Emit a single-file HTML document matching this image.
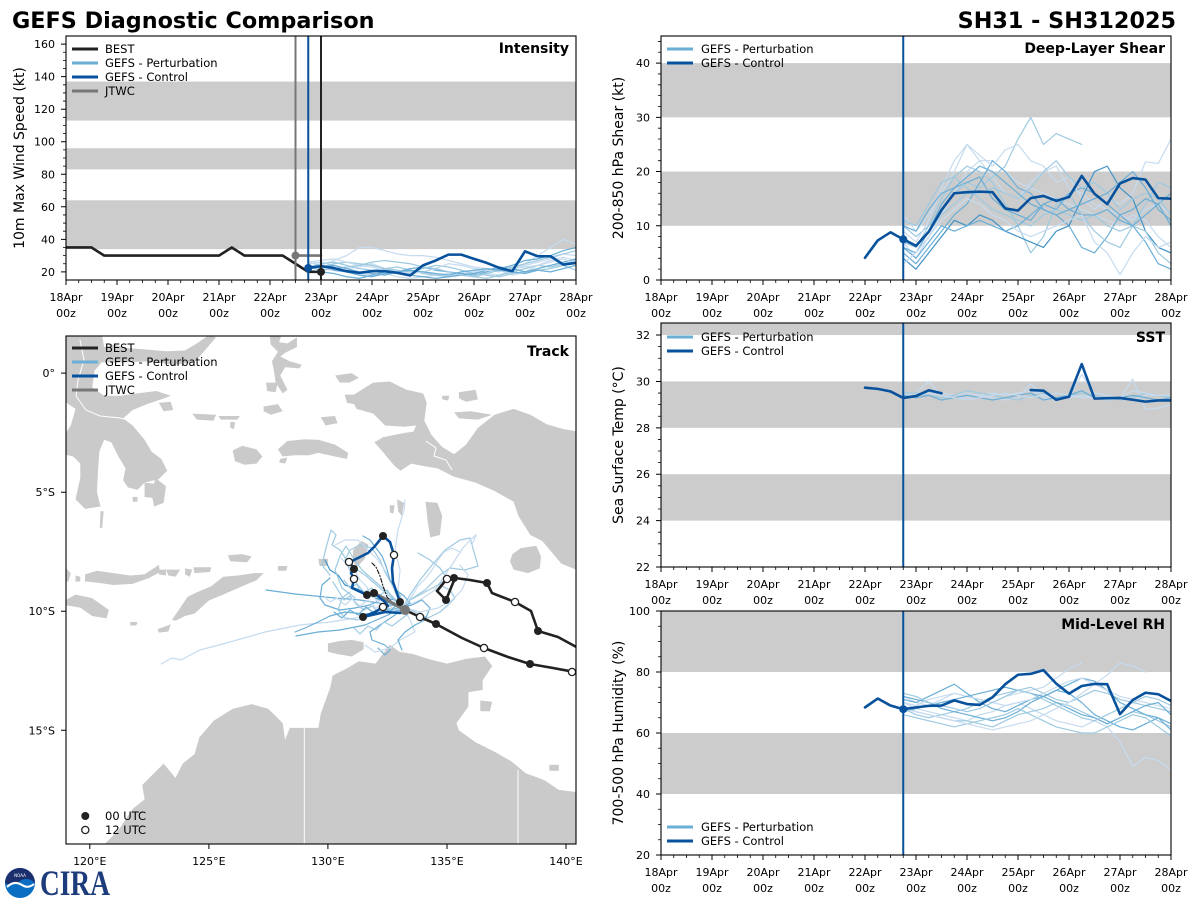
<!DOCTYPE html>
<html><head><meta charset="utf-8"><style>
html,body{margin:0;padding:0;background:#fff}
svg{display:block}
text{font-family:"DejaVu Sans","Liberation Sans",sans-serif;fill:#000}
.tk{font-size:11px}
.xl{font-size:11px;text-anchor:middle}
.yl{font-size:11px;text-anchor:end}
.lg{font-size:11.5px}
.ttl{font-size:14px;font-weight:bold;text-anchor:end}
.al{font-size:14px;text-anchor:middle}
polyline{fill:none;vector-effect:non-scaling-stroke;stroke-linejoin:round;stroke-linecap:round}
.pa{stroke:#c6dbef;stroke-width:1.2}
.pb{stroke:#9ecae1;stroke-width:1.2}
.pc{stroke:#6baed6;stroke-width:1.2}
.pd{stroke:#4292c6;stroke-width:1.2}
.ctl{stroke:#08519c;stroke-width:2.6}
.bst{stroke:#222;stroke-width:2.6}
.band{fill:#cccccc}
.land{fill:#cacaca}
.tr{fill:none;stroke-linejoin:round;stroke-linecap:round}
</style></head><body>
<svg width="1200" height="900" viewBox="0 0 1200 900" xmlns="http://www.w3.org/2000/svg">
<defs>
<clipPath id="cI"><rect x="66" y="36" width="510" height="244"/></clipPath>
<clipPath id="cS"><rect x="661" y="36" width="510" height="244"/></clipPath>
<clipPath id="cT"><rect x="661" y="323" width="510" height="244"/></clipPath>
<clipPath id="cR"><rect x="661" y="611" width="510" height="244"/></clipPath>
<clipPath id="cM"><rect x="66" y="336" width="510" height="508"/></clipPath>
<g id="xt" stroke="#000" fill="none">
<path stroke-width="1" d="M0 0v5M51 0v5M102 0v5M153 0v5M204 0v5M255 0v5M306 0v5M357 0v5M408 0v5M459 0v5M510 0v5"/>
<path stroke-width="0.8" d="M12.75 0v3M25.5 0v3M38.25 0v3M63.75 0v3M76.5 0v3M89.25 0v3M114.75 0v3M127.5 0v3M140.25 0v3M165.75 0v3M178.5 0v3M191.25 0v3M216.75 0v3M229.5 0v3M242.25 0v3M267.75 0v3M280.5 0v3M293.25 0v3M318.75 0v3M331.5 0v3M344.25 0v3M369.75 0v3M382.5 0v3M395.25 0v3M420.75 0v3M433.5 0v3M446.25 0v3M471.75 0v3M484.5 0v3M497.25 0v3"/>
</g>
</defs>
<rect width="1200" height="900" fill="#fff"/>

<!-- Titles -->
<text x="12" y="28" style="font-size:22.3px;font-weight:bold">GEFS Diagnostic Comparison</text>
<text x="1176" y="28" style="font-size:22.3px;font-weight:bold;text-anchor:end">SH31 - SH312025</text>

<!-- ================= INTENSITY ================= -->
<g clip-path="url(#cI)">
<g transform="translate(66,280) scale(51,-1.62667) translate(0,-15)">
<rect class="band" x="0" y="34" width="10" height="30"/>
<rect class="band" x="0" y="83" width="10" height="13"/>
<rect class="band" x="0" y="113" width="10" height="24"/>
<polyline class="pa" points="4.75,25 5,26 5.25,24 5.5,22 5.75,23 6,25 6.25,22 6.5,20 6.75,19 7,20 7.25,18 7.5,17 7.75,19 8,20 8.25,22 8.5,21 8.75,18 9,20 9.25,24 9.5,27 9.75,29 10,27"/>
<polyline class="pa" points="4.75,26 5,24 5.25,27 5.5,30 5.75,35 6,35 6.25,33 6.5,31 6.75,30 7,30 7.25,29 7.5,27 7.75,25 8,23 8.25,22 8.5,20 8.75,22 9,24 9.25,26 9.5,28 9.75,31 10,30"/>
<polyline class="pa" points="4.75,24 5,22 5.25,21 5.5,20 5.75,19 6,18 6.25,19 6.5,17 6.75,16 7,17 7.25,18 7.5,19 7.75,18 8,20 8.25,19 8.5,18 8.75,21 9,25 9.25,30 9.5,35 9.75,40 10,37"/>
<polyline class="pb" points="4.75,23 5,25 5.25,26 5.5,24 5.75,22 6,21 6.25,22 6.5,23 6.75,21 7,19 7.25,18 7.5,17 7.75,18 8,17 8.25,16 8.5,18 8.75,20 9,22 9.25,24 9.5,23 9.75,25 10,27"/>
<polyline class="pc" points="4.75,22 5,24 5.25,21 5.5,20 5.75,18 6,17 6.25,19 6.5,20 6.75,22 7,23 7.25,21 7.5,20 7.75,19 8,18 8.25,20 8.5,22 8.75,24 9,27 9.25,28 9.5,30 9.75,33 10,35"/>
<polyline class="pb" points="4.75,24 5,23 5.25,25 5.5,26 5.75,25 6,24 6.25,22 6.5,21 6.75,20 7,22 7.25,24 7.5,23 7.75,21 8,19 8.25,18 8.5,17 8.75,19 9,20 9.25,21 9.5,22 9.75,24 10,21"/>
<polyline class="pc" points="4.75,21 5,20 5.25,19 5.5,17 5.75,16 6,18 6.25,20 6.5,19 6.75,18 7,17 7.25,16 7.5,17 7.75,18 8,19 8.25,21 8.5,23 8.75,22 9,20 9.25,22 9.5,24 9.75,26 10,28"/>
<polyline class="pa" points="4.75,26 5,27 5.25,28 5.5,26 5.75,24 6,23 6.25,21 6.5,20 6.75,19 7,20 7.25,22 7.5,25 7.75,24 8,22 8.25,21 8.5,20 8.75,22 9,23 9.25,24 9.5,26 9.75,28 10,25"/>
<polyline class="pb" points="4.75,23 5,21 5.25,22 5.5,23 5.75,24 6,26 6.25,27 6.5,26 6.75,25 7,23 7.25,22 7.5,20 7.75,18 8,17 8.25,19 8.5,21 8.75,23 9,25 9.25,27 9.5,29 9.75,31 10,33"/>
<polyline class="pc" points="4.75,22 5,23 5.25,24 5.5,22 5.75,20 6,19 6.25,18 6.5,20 6.75,21 7,20 7.25,19 7.5,18 7.75,20 8,21 8.25,22 8.5,21 8.75,20 9,19 9.25,21 9.5,20 9.75,22 10,24"/>
<polyline class="bst" points="0,35 0.5,35 0.75,30 3,30 3.25,35 3.5,30 4.25,30 4.5,25 4.75,20 5,20"/>
<polyline style="stroke:#777;stroke-width:2.6" points="4.5,30 5,30"/>
<polyline class="ctl" points="4.75,22.4 5,23.5 5.25,22.4 5.5,20.4 5.75,19.4 6,20.4 6.25,20.4 6.5,19.4 6.75,17.8 7,24 7.25,27 7.5,30.6 7.75,30.6 8,28 8.25,25.5 8.5,22.4 8.75,20.4 9,32.6 9.25,29.6 9.5,29.6 9.75,24.5 10,25.5"/>
</g>
<line x1="295.5" y1="36" x2="295.5" y2="280" stroke="#777" stroke-width="2"/>
<line x1="308.25" y1="36" x2="308.25" y2="280" stroke="#08519c" stroke-width="2"/>
<line x1="321" y1="36" x2="321" y2="280" stroke="#222" stroke-width="2"/>
<circle cx="295.5" cy="255.6" r="4" fill="#777"/>
<circle cx="308.25" cy="268" r="4" fill="#08519c"/>
<circle cx="321" cy="271.9" r="4" fill="#222"/>
</g>
<rect x="66" y="36" width="510" height="244" fill="none" stroke="#000" stroke-width="1.1"/>
<use href="#xt" x="66" y="280"/>
<path stroke="#000" stroke-width="1" d="M61 271.87h5M61 239.33h5M61 206.8h5M61 174.27h5M61 141.73h5M61 109.2h5M61 76.67h5M61 44.13h5"/>
<path stroke="#000" stroke-width="0.8" d="M63 263.73h3M63 255.6h3M63 247.47h3M63 231.2h3M63 223.07h3M63 214.93h3M63 198.67h3M63 190.53h3M63 182.4h3M63 166.13h3M63 158h3M63 149.87h3M63 133.6h3M63 125.47h3M63 117.33h3M63 101.07h3M63 92.93h3M63 84.8h3M63 68.53h3M63 60.4h3M63 52.27h3"/>
<text class="yl" x="55" y="275.9">20</text><text class="yl" x="55" y="243.3">40</text><text class="yl" x="55" y="210.8">60</text><text class="yl" x="55" y="178.3">80</text><text class="yl" x="55" y="145.7">100</text><text class="yl" x="55" y="113.2">120</text><text class="yl" x="55" y="80.7">140</text><text class="yl" x="55" y="48.1">160</text>
<text class="xl" x="66" y="301">18Apr</text><text class="xl" x="66" y="317">00z</text>
<text class="xl" x="117" y="301">19Apr</text><text class="xl" x="117" y="317">00z</text>
<text class="xl" x="168" y="301">20Apr</text><text class="xl" x="168" y="317">00z</text>
<text class="xl" x="219" y="301">21Apr</text><text class="xl" x="219" y="317">00z</text>
<text class="xl" x="270" y="301">22Apr</text><text class="xl" x="270" y="317">00z</text>
<text class="xl" x="321" y="301">23Apr</text><text class="xl" x="321" y="317">00z</text>
<text class="xl" x="372" y="301">24Apr</text><text class="xl" x="372" y="317">00z</text>
<text class="xl" x="423" y="301">25Apr</text><text class="xl" x="423" y="317">00z</text>
<text class="xl" x="474" y="301">26Apr</text><text class="xl" x="474" y="317">00z</text>
<text class="xl" x="525" y="301">27Apr</text><text class="xl" x="525" y="317">00z</text>
<text class="xl" x="576" y="301">28Apr</text><text class="xl" x="576" y="317">00z</text>
<text class="al" x="24" y="158" transform="rotate(-90 24 158)">10m Max Wind Speed (kt)</text>
<text class="ttl" x="569" y="53">Intensity</text>
<line x1="72" y1="49" x2="98" y2="49" stroke="#222" stroke-width="3"/>
<line x1="72" y1="63" x2="98" y2="63" stroke="#6baed6" stroke-width="3"/>
<line x1="72" y1="77" x2="98" y2="77" stroke="#08519c" stroke-width="3"/>
<line x1="72" y1="91" x2="98" y2="91" stroke="#777" stroke-width="3"/>
<text class="lg" x="105" y="53">BEST</text>
<text class="lg" x="105" y="67">GEFS - Perturbation</text>
<text class="lg" x="105" y="81">GEFS - Control</text>
<text class="lg" x="105" y="95">JTWC</text>

<!-- ================= SHEAR ================= -->
<g clip-path="url(#cS)">
<g transform="translate(661,280) scale(51,-5.42222)">
<rect class="band" x="0" y="10" width="10" height="10"/>
<rect class="band" x="0" y="30" width="10" height="10"/>
<polyline class="pa" points="4.75,12 5,9 5.25,12 5.5,16 5.75,20 6,25 6.25,22 6.5,19 6.75,16 7,15 7.25,18 7.5,20 7.75,21 8,17 8.25,16 8.5,14 8.75,13 9,12 9.25,11 9.5,13 9.75,14 10,12"/>
<polyline class="pb" points="4.75,10 5,8 5.25,10 5.5,13 5.75,16 6,18 6.25,17 6.5,19 6.75,21 7,26 7.25,30 7.5,25 7.75,27 8,26 8.25,25"/>
<polyline class="pa" points="4.75,7 5,4 5.25,8 5.5,12 5.75,16 6,20 6.25,22 6.5,22 6.75,20 7,18 7.25,17 7.5,16 7.75,15 8,14 8.25,13 8.5,12 8.75,11 9,10 9.25,12 9.5,11 9.75,8 10,6"/>
<polyline class="pc" points="4.75,5 5,3 5.25,6 5.5,9 5.75,12 6,14 6.25,18 6.5,22 6.75,20 7,17 7.25,16 7.5,13 7.75,12 8,10 8.25,6 8.5,5 8.75,8 9,12 9.25,10 9.5,7 9.75,3 10,2"/>
<polyline class="pb" points="4.75,8 5,6 5.25,10 5.5,15 5.75,19 6,21 6.25,20 6.5,18 6.75,14 7,10 7.25,5 7.5,8 7.75,14 8,16 8.25,12 8.5,9 8.75,7 9,6 9.25,10 9.5,14 9.75,18 10,17"/>
<polyline class="pc" points="4.75,6 5,5 5.25,9 5.5,14 5.75,17 6,18 6.25,19 6.5,15 6.75,13 7,12 7.25,11 7.5,14 7.75,13 8,16 8.25,17 8.5,16 8.75,14 9,12 9.25,13 9.5,15 9.75,14 10,10"/>
<polyline class="pa" points="4.75,9 5,7 5.25,11 5.5,17 5.75,22 6,25 6.25,23 6.5,21 6.75,24 7,25 7.25,22 7.5,21 7.75,18 8,19 8.25,15 8.5,13 8.75,15 9,14 9.25,16 9.5,21.8 9.75,21.5 10,26"/>
<polyline class="pd" points="4.75,4 5,2 5.25,5 5.5,8 5.75,11 6,10 6.25,12 6.5,11 6.75,9 7,8 7.25,7 7.5,6 7.75,9 8,10 8.25,15 8.5,20 8.75,21 9,17 9.25,15 9.5,9 9.75,6 10,5"/>
<polyline class="pb" points="4.75,11 5,10 5.25,14 5.5,18 5.75,19 6,17 6.25,15 6.5,13 6.75,12 7,11 7.25,10 7.5,12 7.75,13 8,12 8.25,11 8.5,12 8.75,10 9,9 9.25,10 9.5,9 9.75,5 10,3"/>
<polyline class="pc" points="4.75,6 5,4 5.25,7 5.5,10 5.75,9 6,10 6.25,11 6.5,10 6.75,9 7,10 7.25,12 7.5,14 7.75,15 8,13 8.25,12 8.5,12 8.75,13 9,11 9.25,10 9.5,12 9.75,14 10,16"/>
<polyline class="pb" points="4.75,7 5,6 5.25,9 5.5,12 5.75,14 6,16 6.25,16 6.5,17 6.75,16 7,15 7.25,17 7.5,20 7.75,22 8,19 8.25,17 8.5,18 8.75,16 9,13 9.25,15 9.5,16 9.75,15 10,12"/>
<polyline class="pa" points="4.75,3 5,5 5.25,8 5.5,11 5.75,13 6,15 6.25,14 6.5,12 6.75,11 7,9 7.25,8 7.5,9 7.75,10 8,11 8.25,12 8.5,7 8.75,5 9,1 9.25,5 9.5,8 9.75,6 10,7"/>
<polyline class="pc" points="4.75,10 5,9 5.25,13 5.5,16 5.75,17 6,19 6.25,21 6.5,20 6.75,18 7,16 7.25,14 7.5,13 7.75,12 8,13 8.25,14 8.5,15 8.75,16 9,18 9.25,20 9.5,17 9.75,13 10,11"/>
<polyline class="ctl" points="4,4.1 4.25,7.3 4.5,8.8 4.75,7.5 5,6.3 5.25,8.9 5.5,12.9 5.75,16 6,16.2 6.25,16.3 6.5,16.2 6.75,13.2 7,12.8 7.25,15.1 7.5,15.5 7.75,14.6 8,15.3 8.25,19.2 8.5,15.9 8.75,14 9,17.8 9.25,18.8 9.5,18.5 9.75,15.1 10,15"/>
</g>
<line x1="903.25" y1="36" x2="903.25" y2="280" stroke="#08519c" stroke-width="2"/>
<circle cx="903.25" cy="239.3" r="4" fill="#08519c"/>
</g>
<rect x="661" y="36" width="510" height="244" fill="none" stroke="#000" stroke-width="1.1"/>
<use href="#xt" x="661" y="280"/>
<path stroke="#000" stroke-width="1" d="M656 280h5M656 225.78h5M656 171.56h5M656 117.33h5M656 63.11h5"/>
<path stroke="#000" stroke-width="0.8" d="M658 269.16h3M658 258.31h3M658 247.47h3M658 236.62h3M658 214.93h3M658 204.09h3M658 193.24h3M658 182.4h3M658 160.71h3M658 149.87h3M658 139.02h3M658 128.18h3M658 106.49h3M658 95.64h3M658 84.8h3M658 73.96h3M658 52.27h3M658 41.42h3"/>
<text class="yl" x="650" y="284">0</text><text class="yl" x="650" y="229.8">10</text><text class="yl" x="650" y="175.6">20</text><text class="yl" x="650" y="121.3">30</text><text class="yl" x="650" y="67.1">40</text>
<text class="xl" x="661" y="301">18Apr</text><text class="xl" x="661" y="317">00z</text>
<text class="xl" x="712" y="301">19Apr</text><text class="xl" x="712" y="317">00z</text>
<text class="xl" x="763" y="301">20Apr</text><text class="xl" x="763" y="317">00z</text>
<text class="xl" x="814" y="301">21Apr</text><text class="xl" x="814" y="317">00z</text>
<text class="xl" x="865" y="301">22Apr</text><text class="xl" x="865" y="317">00z</text>
<text class="xl" x="916" y="301">23Apr</text><text class="xl" x="916" y="317">00z</text>
<text class="xl" x="967" y="301">24Apr</text><text class="xl" x="967" y="317">00z</text>
<text class="xl" x="1018" y="301">25Apr</text><text class="xl" x="1018" y="317">00z</text>
<text class="xl" x="1069" y="301">26Apr</text><text class="xl" x="1069" y="317">00z</text>
<text class="xl" x="1120" y="301">27Apr</text><text class="xl" x="1120" y="317">00z</text>
<text class="xl" x="1171" y="301">28Apr</text><text class="xl" x="1171" y="317">00z</text>
<text class="al" x="623" y="158" transform="rotate(-90 623 158)">200-850 hPa Shear (kt)</text>
<text class="ttl" x="1165" y="53">Deep-Layer Shear</text>
<line x1="667" y1="49" x2="693" y2="49" stroke="#6baed6" stroke-width="3"/>
<line x1="667" y1="63" x2="693" y2="63" stroke="#08519c" stroke-width="3"/>
<text class="lg" x="701" y="53">GEFS - Perturbation</text>
<text class="lg" x="701" y="67">GEFS - Control</text>

<!-- ================= SST ================= -->
<g clip-path="url(#cT)">
<g transform="translate(661,567) scale(51,-23.194) translate(0,-22)">
<rect class="band" x="0" y="24" width="10" height="2"/>
<rect class="band" x="0" y="28" width="10" height="2"/>
<rect class="band" x="0" y="32" width="10" height="1"/>
<polyline class="pa" points="4.75,29.4 5,29.5 5.25,30.0 5.5,29.4 5.75,29.3 6,29.3 6.25,29.4 6.5,29.3 6.75,29.2 7,29.3 7.25,29.9 7.5,29.3 7.75,29.2 8,29.3 8.25,29.4 8.5,29.3 8.75,29.3 9,29.3 9.25,29.2 9.5,29.4 9.75,29.4 10,29.4"/>
<polyline class="pa" points="4.75,29.3 5,29.4 5.25,29.6 5.5,29.5 5.75,29.4 6,29.5 6.25,29.4 6.5,29.5 6.75,29.4 7,29.5 7.25,29.6 7.5,29.4 7.75,29.3 8,29.3 8.25,30.3 8.5,29.5 8.75,29.4 9,29.3 9.25,30.1 9.5,28.8 9.75,28.85 10,29.0"/>
<polyline class="pb" points="4.75,29.5 5,29.5 5.25,29.4 5.5,29.3 5.75,29.4 6,29.6 6.25,29.5 6.5,29.4 6.75,29.3 7,29.2 7.25,29.4 7.5,29.5 7.75,29.3 8,29.4 8.25,29.5 8.5,29.4 8.75,29.3 9,29.2 9.25,29.3 9.5,29.5 9.75,29.4 10,29.3"/>
<polyline class="pc" points="4.75,29.4 5,29.3 5.25,29.4 5.5,29.2 5.75,29.3 6,29.4 6.25,29.3 6.5,29.2 6.75,29.3 7,29.4 7.25,29.5 7.5,29.2 7.75,29.3 8,29.4 8.25,29.6 8.5,29.3 8.75,29.2 9,29.3 9.25,29.4 9.5,29.3 9.75,29.2 10,29.3"/>
<polyline class="pa" points="4.75,29.3 5,29.4 5.25,29.5 5.5,29.4 5.75,29.3 6,29.2 6.25,29.3 6.5,29.4 6.75,29.5 7,29.4 7.25,29.3 7.5,29.4 7.75,29.5 8,29.4 8.25,29.3 8.5,29.3 8.75,29.2 9,29.3 9.25,29.6 9.5,29.5 9.75,29.4 10,29.4"/>
<polyline class="ctl" points="4,29.73 4.25,29.68 4.5,29.57 4.75,29.29 5,29.37 5.25,29.62 5.5,29.49"/>
<polyline class="ctl" points="7.25,29.63 7.5,29.6 7.75,29.21 8,29.34 8.25,30.75 8.5,29.26 8.75,29.28 9,29.29 9.25,29.21 9.5,29.13 9.75,29.18 10,29.18"/>
</g>
<line x1="903.25" y1="323" x2="903.25" y2="567" stroke="#08519c" stroke-width="2"/>
</g>
<rect x="661" y="323" width="510" height="244" fill="none" stroke="#000" stroke-width="1.1"/>
<use href="#xt" x="661" y="567"/>
<path stroke="#000" stroke-width="1" d="M656 567h5M656 520.61h5M656 474.22h5M656 427.84h5M656 381.45h5M656 335.06h5"/>
<path stroke="#000" stroke-width="0.8" d="M658 555.4h3M658 543.81h3M658 532.21h3M658 509.01h3M658 497.42h3M658 485.82h3M658 462.63h3M658 451.03h3M658 439.43h3M658 416.24h3M658 404.64h3M658 393.04h3M658 369.85h3M658 358.25h3M658 346.66h3"/>
<text class="yl" x="650" y="571">22</text><text class="yl" x="650" y="524.6">24</text><text class="yl" x="650" y="478.2">26</text><text class="yl" x="650" y="431.8">28</text><text class="yl" x="650" y="385.5">30</text><text class="yl" x="650" y="339.1">32</text>
<text class="xl" x="661" y="588">18Apr</text><text class="xl" x="661" y="604">00z</text>
<text class="xl" x="712" y="588">19Apr</text><text class="xl" x="712" y="604">00z</text>
<text class="xl" x="763" y="588">20Apr</text><text class="xl" x="763" y="604">00z</text>
<text class="xl" x="814" y="588">21Apr</text><text class="xl" x="814" y="604">00z</text>
<text class="xl" x="865" y="588">22Apr</text><text class="xl" x="865" y="604">00z</text>
<text class="xl" x="916" y="588">23Apr</text><text class="xl" x="916" y="604">00z</text>
<text class="xl" x="967" y="588">24Apr</text><text class="xl" x="967" y="604">00z</text>
<text class="xl" x="1018" y="588">25Apr</text><text class="xl" x="1018" y="604">00z</text>
<text class="xl" x="1069" y="588">26Apr</text><text class="xl" x="1069" y="604">00z</text>
<text class="xl" x="1120" y="588">27Apr</text><text class="xl" x="1120" y="604">00z</text>
<text class="xl" x="1171" y="588">28Apr</text><text class="xl" x="1171" y="604">00z</text>
<text class="al" x="623" y="445" transform="rotate(-90 623 445)">Sea Surface Temp (°C)</text>
<text class="ttl" x="1165" y="342">SST</text>
<line x1="667" y1="337" x2="693" y2="337" stroke="#6baed6" stroke-width="3"/>
<line x1="667" y1="351" x2="693" y2="351" stroke="#08519c" stroke-width="3"/>
<text class="lg" x="701" y="341">GEFS - Perturbation</text>
<text class="lg" x="701" y="355">GEFS - Control</text>

<!-- ================= RH ================= -->
<g clip-path="url(#cR)">
<g transform="translate(661,855) scale(51,-3.05) translate(0,-20)">
<rect class="band" x="0" y="40" width="10" height="20"/>
<rect class="band" x="0" y="80" width="10" height="20"/>
<polyline class="pa" points="4.75,72 5,70 5.25,69 5.5,71 5.75,73 6,72 6.25,71 6.5,70 6.75,72 7,73 7.25,74 7.5,75 7.75,78 8,81 8.25,83"/>
<polyline class="pa" points="4.75,70 5,68 5.25,67 5.5,66 5.75,65 6,64 6.25,66 6.5,67 6.75,69 7,70 7.25,68 7.5,66 7.75,64 8,63 8.25,62 8.5,64 8.75,62 9,57 9.25,49 9.5,52 9.75,51 10,48"/>
<polyline class="pb" points="4.75,69 5,67 5.25,66 5.5,65 5.75,64 6,64 6.25,63 6.5,62 6.75,64 7,66 7.25,67 7.5,68 7.75,70 8,69 8.25,67 8.5,65 8.75,63 9,65 9.25,67 9.5,66 9.75,64 10,62"/>
<polyline class="pc" points="4.75,71 5,70 5.25,72 5.5,74 5.75,76 6,73 6.25,70 6.5,68 6.75,67 7,69 7.25,71 7.5,72 7.75,74 8,73 8.25,70 8.5,66 8.75,64 9,62 9.25,61 9.5,63 9.75,65 10,61"/>
<polyline class="pb" points="4.75,68 5,66 5.25,65 5.5,66 5.75,67 6,68 6.25,70 6.5,72 6.75,73 7,74 7.25,75 7.5,73 7.75,71 8,70 8.25,72 8.5,74 8.75,73 9,71 9.25,70 9.5,69 9.75,68 10,67"/>
<polyline class="pc" points="4.75,72 5,71 5.25,70 5.5,68 5.75,67 6,66 6.25,65 6.5,64 6.75,65 7,67 7.25,70 7.5,72 7.75,74 8,76 8.25,78 8.5,77 8.75,74 9,70 9.25,68 9.5,66 9.75,65 10,63"/>
<polyline class="pb" points="4.75,66 5,65 5.25,64 5.5,63 5.75,62 6,63 6.25,64 6.5,65 6.75,66 7,68 7.25,66 7.5,64 7.75,62 8,61 8.25,60 8.5,60 8.75,62 9,64 9.25,66 9.5,65 9.75,62 10,59"/>
<polyline class="pa" points="4.75,70 5,69 5.25,71 5.5,72 5.75,73 6,72 6.25,71 6.5,70 6.75,69 7,70 7.25,71 7.5,73 7.75,75 8,77 8.25,78 8.5,76 8.75,74 9,72 9.25,71 9.5,70 9.75,69 10,68"/>
<polyline class="pc" points="4.75,67 5,68 5.25,69 5.5,70 5.75,71 6,72 6.25,73 6.5,74 6.75,75 7,74 7.25,73 7.5,72 7.75,70 8,68 8.25,66 8.5,65 8.75,63 9,65 9.25,67 9.5,69 9.75,70 10,66"/>
<polyline class="pb" points="4.75,73 5,72 5.25,70 5.5,69 5.75,68 6,67 6.25,68 6.5,70 6.75,72 7,74 7.25,73 7.5,71 7.75,69 8,67 8.25,65 8.5,64 8.75,66 9,68 9.25,70 9.5,72 9.75,71 10,69"/>
<polyline class="pa" points="4.75,68 5,67 5.25,66 5.5,65 5.75,64 6,63 6.25,62 6.5,61 6.75,62 7,63 7.25,64 7.5,66 7.75,68 8,70 8.25,73 8.5,76 8.75,79 9,83 9.25,82 9.5,80"/>
<polyline class="ctl" points="4,68.4 4.25,71.3 4.5,69 4.75,67.8 5,68.4 5.25,68.9 5.5,69 5.75,70.7 6,69.5 6.25,69.2 6.5,71.7 6.75,76 7,79.1 7.25,79.4 7.5,80.6 7.75,76.2 8,72.9 8.25,75.4 8.5,76.1 8.75,76 9,66.2 9.25,70.8 9.5,73.2 9.75,72.7 10,70.5"/>
</g>
<line x1="903.25" y1="611" x2="903.25" y2="855" stroke="#08519c" stroke-width="2"/>
<circle cx="903.25" cy="709.2" r="4" fill="#08519c"/>
</g>
<rect x="661" y="611" width="510" height="244" fill="none" stroke="#000" stroke-width="1.1"/>
<use href="#xt" x="661" y="855"/>
<path stroke="#000" stroke-width="1" d="M656 855h5M656 794h5M656 733h5M656 672h5M656 611h5"/>
<path stroke="#000" stroke-width="0.8" d="M658 839.75h3M658 824.5h3M658 809.25h3M658 778.75h3M658 763.5h3M658 748.25h3M658 717.75h3M658 702.5h3M658 687.25h3M658 656.75h3M658 641.5h3M658 626.25h3"/>
<text class="yl" x="650" y="859">20</text><text class="yl" x="650" y="798">40</text><text class="yl" x="650" y="737">60</text><text class="yl" x="650" y="676">80</text><text class="yl" x="650" y="615">100</text>
<text class="xl" x="661" y="876">18Apr</text><text class="xl" x="661" y="892">00z</text>
<text class="xl" x="712" y="876">19Apr</text><text class="xl" x="712" y="892">00z</text>
<text class="xl" x="763" y="876">20Apr</text><text class="xl" x="763" y="892">00z</text>
<text class="xl" x="814" y="876">21Apr</text><text class="xl" x="814" y="892">00z</text>
<text class="xl" x="865" y="876">22Apr</text><text class="xl" x="865" y="892">00z</text>
<text class="xl" x="916" y="876">23Apr</text><text class="xl" x="916" y="892">00z</text>
<text class="xl" x="967" y="876">24Apr</text><text class="xl" x="967" y="892">00z</text>
<text class="xl" x="1018" y="876">25Apr</text><text class="xl" x="1018" y="892">00z</text>
<text class="xl" x="1069" y="876">26Apr</text><text class="xl" x="1069" y="892">00z</text>
<text class="xl" x="1120" y="876">27Apr</text><text class="xl" x="1120" y="892">00z</text>
<text class="xl" x="1171" y="876">28Apr</text><text class="xl" x="1171" y="892">00z</text>
<text class="al" x="623" y="733" transform="rotate(-90 623 733)">700-500 hPa Humidity (%)</text>
<text class="ttl" x="1165" y="629">Mid-Level RH</text>
<line x1="667" y1="827" x2="693" y2="827" stroke="#6baed6" stroke-width="3"/>
<line x1="667" y1="841" x2="693" y2="841" stroke="#08519c" stroke-width="3"/>
<text class="lg" x="701" y="831">GEFS - Perturbation</text>
<text class="lg" x="701" y="845">GEFS - Control</text>

<!-- ================= TRACK MAP ================= -->
<g clip-path="url(#cM)">
<g class="land" transform="translate(66,336) scale(23.81,-23.81) translate(-119,-1.56)">
<!-- Sulawesi -->
<polygon points="118.5,-0.9 118.5,1.7 120.5,1.7 120.6,1.1 121.0,1.2 121.6,1.05 122.5,0.98 123.2,0.92 124.0,0.95 124.5,1.25 125.0,1.6 125.3,1.5 125.0,1.15 124.4,0.45 123.5,0.35 122.5,0.5 121.5,0.45 120.5,0.45 120.2,0.1 120.1,-0.6 120.6,-0.95 121.3,-0.95 122.0,-0.85 122.8,-0.75 123.4,-0.95 123.0,-1.1 122.4,-1.3 121.8,-1.55 121.4,-1.9 121.8,-2.2 122.3,-2.8 122.6,-3.3 123.0,-3.6 123.25,-4.1 122.9,-4.45 122.3,-4.6 122.0,-4.9 121.6,-4.8 121.4,-4.5 121.5,-4.0 121.2,-3.5 120.9,-2.9 120.6,-2.8 120.4,-3.3 120.35,-4.0 120.3,-5.0 120.45,-5.6 119.8,-5.7 119.4,-5.3 119.6,-4.4 119.6,-3.8 119.3,-3.5 118.9,-3.4 118.8,-2.8 119.2,-2.2 119.4,-1.5"/>
<polygon points="122.75,-4.4 123.2,-4.75 123.1,-5.45 122.7,-5.6 122.6,-5.1"/>
<polygon points="122.3,-4.6 122.75,-4.65 122.7,-5.25 122.3,-5.2"/>
<polygon points="121.8,-5.2 122.0,-5.2 122.0,-5.4 121.8,-5.4"/>
<polygon points="120.45,-5.8 120.58,-5.8 120.52,-6.5 120.42,-6.5"/>
<polygon points="122.9,-1.25 123.4,-1.2 123.5,-1.55 123.1,-1.6"/>
<!-- Sula -->
<polygon points="124.3,-1.7 125.3,-1.75 125.2,-2.0 124.5,-1.95"/>
<polygon points="125.4,-1.8 126.3,-1.8 126.2,-1.95 125.5,-1.95"/>
<polygon points="125.9,-2.05 126.1,-2.05 126.05,-2.35 125.9,-2.3"/>
<!-- Halmahera etc -->
<polygon points="127.55,1.6 128.05,1.6 127.95,1.3 128.3,1.25 128.7,1.5 128.7,1.1 128.2,0.85 128.0,0.7 128.4,0.5 128.9,0.35 128.8,0.2 128.2,0.25 128.0,-0.1 128.3,-0.7 128.1,-0.85 127.8,-0.4 127.75,0.0 127.65,0.5 127.9,0.9 127.6,1.2"/>
<polygon points="127.4,-0.4 127.9,-0.4 127.8,-0.8 127.45,-0.75"/>
<polygon points="127.3,-1.4 127.9,-1.3 128.1,-1.6 127.6,-1.75 127.3,-1.6"/>
<!-- Raja Ampat -->
<polygon points="130.3,-0.1 131.0,0.0 131.3,-0.2 130.9,-0.4 130.5,-0.4"/>
<polygon points="130.7,-0.9 131.2,-0.9 131.1,-1.3 130.8,-1.25"/>
<polygon points="129.7,-1.85 130.3,-1.8 130.4,-2.1 129.9,-2.2"/>
<!-- Seram Buru Ambon -->
<polygon points="127.9,-3.2 128.3,-2.85 129.0,-2.78 129.6,-2.8 130.3,-3.0 130.85,-3.35 130.8,-3.6 130.3,-3.5 129.6,-3.35 129.2,-3.45 128.6,-3.45 128.1,-3.5"/>
<polygon points="128.0,-3.6 128.3,-3.55 128.2,-3.8 127.95,-3.75"/>
<polygon points="126.0,-3.25 126.4,-3.05 127.0,-3.2 127.25,-3.5 127.0,-3.8 126.5,-3.85 126.1,-3.7"/>
<!-- New Guinea -->
<polygon points="130.95,-1.0 131.25,-0.8 131.9,-0.4 132.6,-0.35 133.3,-0.7 134.0,-0.85 134.15,-1.25 134.05,-2.0 134.35,-2.6 134.8,-3.1 135.3,-3.4 135.8,-3.0 136.3,-2.3 137.0,-1.75 137.8,-1.5 138.5,-1.75 139.2,-2.15 139.9,-2.35 140.5,-2.45 141,-2.6 141,-8.4 140.42,-8.25 139.8,-8.0 139.3,-7.4 139.0,-7.05 138.5,-6.8 138.0,-6.0 137.8,-5.4 137.0,-4.95 136.2,-4.6 135.3,-4.35 134.6,-4.0 134.0,-3.9 133.5,-3.8 133.05,-4.1 132.8,-3.9 132.3,-3.3 131.95,-2.9 132.3,-2.7 133.0,-2.55 133.6,-2.45 133.7,-2.2 133.2,-2.25 132.4,-2.2 131.9,-1.7 131.2,-1.5"/>
<polygon points="137.75,-7.6 138.1,-7.35 138.75,-7.25 138.95,-7.7 138.9,-8.2 138.4,-8.4 137.8,-8.25 137.65,-7.9"/>
<polygon points="135.5,-0.8 136.2,-0.7 136.3,-1.1 135.8,-1.2 135.5,-1.05"/>
<polygon points="135.3,-1.65 136.0,-1.6 136.9,-1.75 136.3,-1.95 135.5,-1.9"/>
<polygon points="134.8,-0.95 135.1,-0.95 135.05,-1.15 134.8,-1.1"/>
<!-- Aru Kai Tanimbar -->
<polygon points="134.1,-5.4 134.6,-5.45 134.8,-6.0 134.7,-6.8 134.3,-6.9 134.2,-6.3"/>
<polygon points="132.9,-5.3 133.2,-5.45 133.1,-6.0 132.95,-5.8"/>
<polygon points="132.6,-5.55 132.8,-5.55 132.75,-5.9 132.6,-5.85"/>
<polygon points="131.05,-7.45 131.4,-7.05 131.7,-7.2 131.55,-7.8 131.2,-8.15 131.05,-7.9"/>
<polygon points="129.6,-7.8 130.0,-7.8 130.0,-8.1 129.65,-8.1"/>
<polygon points="127.9,-8.1 128.3,-8.1 128.25,-8.3 127.9,-8.3"/>
<!-- Lesser Sunda -->
<polygon points="125.8,-7.65 126.4,-7.6 126.8,-7.7 126.6,-7.95 125.9,-7.9"/>
<polygon points="124.35,-8.15 125.1,-8.15 125.05,-8.35 124.4,-8.4"/>
<polygon points="124.0,-8.2 124.3,-8.25 124.2,-8.55 124.0,-8.45"/>
<polygon points="123.2,-8.25 123.8,-8.25 123.6,-8.55 123.3,-8.5"/>
<polygon points="122.9,-8.25 123.2,-8.25 123.2,-8.5 122.9,-8.45"/>
<polygon points="119.8,-8.45 120.3,-8.3 121.0,-8.4 121.7,-8.5 122.3,-8.45 122.9,-8.05 122.95,-8.35 122.5,-8.6 121.8,-8.85 121.0,-8.9 120.3,-8.8 119.8,-8.75"/>
<polygon points="119.4,-8.5 119.6,-8.55 119.6,-8.75 119.4,-8.75"/>
<polygon points="118.5,-8.2 119.0,-8.2 119.2,-8.4 119.1,-8.75 118.5,-8.8"/>
<polygon points="118.95,-9.55 119.4,-9.3 120.1,-9.45 120.8,-9.95 120.7,-10.3 120.1,-10.2 119.6,-9.85 119.0,-9.75"/>
<polygon points="121.7,-10.45 122.0,-10.45 121.95,-10.6 121.7,-10.6"/>
<polygon points="122.85,-10.75 123.4,-10.55 123.3,-10.85 122.9,-10.9"/>
<polygon points="123.45,-10.35 123.7,-10.0 124.1,-9.4 124.5,-9.2 125.1,-8.95 125.6,-8.55 126.2,-8.5 126.9,-8.4 127.3,-8.4 127.0,-8.7 126.4,-8.95 125.6,-9.3 125.0,-9.55 124.4,-10.1 124.0,-10.2 123.6,-10.4"/>
<!-- Australia -->
<polygon points="119.5,-21 120.3,-20.2 120.6,-19.8 121.2,-19.2 121.8,-18.3 122.3,-17.9 122.2,-17.3 122.7,-16.8 123.1,-16.4 123.6,-17.0 123.9,-16.4 124.4,-16.0 124.6,-15.3 125.2,-14.6 126.0,-14.1 126.8,-13.9 127.5,-14.1 128.1,-14.7 128.2,-15.4 128.4,-14.9 129.0,-14.9 129.6,-14.9 129.7,-14.3 130.1,-13.2 130.2,-12.7 130.8,-12.4 131.3,-12.1 132.0,-12.2 132.6,-11.4 133.0,-11.7 133.6,-11.8 134.2,-12.0 135.0,-12.2 135.8,-12.0 136.6,-11.9 136.9,-12.3 136.5,-12.9 136.5,-13.3 135.9,-13.4 135.9,-14.0 135.4,-14.7 135.5,-15.0 136.2,-15.5 137.0,-15.9 137.7,-16.3 138.3,-16.8 139.1,-17.1 139.7,-17.5 140.5,-17.6 141,-17.0 141,-21"/>
<polygon points="130.0,-11.35 130.5,-11.25 131.0,-11.2 131.5,-11.3 131.5,-11.6 131.0,-11.9 130.4,-11.8 130.0,-11.7"/>
<polygon points="136.4,-13.75 136.9,-13.8 136.8,-14.2 136.4,-14.2"/>
<polygon points="139.3,-16.45 139.7,-16.45 139.7,-16.7 139.3,-16.7"/>
</g>
<!-- borders -->
<g fill="none" stroke="#fff" stroke-width="1">
<path d="M304.3 727V844M518 770V844"/>
<path d="M76 396L86 410L100 416L120 418L140 423"/>
<path d="M80 340L84 360L78 380L76 396"/>
<path d="M426 441L436 448L434 456L446 460L452 470"/>
</g>
<!-- perturbation tracks -->
<g class="tr" stroke-width="1.1">
<polyline class="pa" points="403,607 380,612 355,618 330,622 300,625 265,632 230,642 200,650 181,660 172,658 161,664"/>
<polyline class="pc" points="403,607 385,604 360,600 335,598 315,596 295,594 266,590"/>
<polyline class="pc" points="403,607 388,615 365,625 340,630 318,632 296,636"/>
<polyline class="pb" points="403,607 410,595 420,580 432,565 445,550 460,540 470,538 478,566 465,570 450,568 440,575 425,590 410,600"/>
<polyline class="pa" points="403,607 398,590 400,570 395,550 398,530 404,510 405,500"/>
<polyline class="pb" points="403,607 392,598 380,588 365,575 350,565 340,550 332,545 336,535 331,530 326,548 322,565 330,575"/>
<polyline class="pc" points="403,607 395,615 380,625 370,632 372,640 385,645 390,650 385,655 378,648"/>
<polyline class="pb" points="403,607 415,612 428,618 440,612 448,605 455,598 450,590 440,585"/>
<polyline class="pd" points="403,607 390,603 375,598 360,590 345,585 338,575 330,570 325,560"/>
<polyline class="pa" points="403,607 410,620 415,632 400,640 390,648 375,652 365,645"/>
<polyline class="pb" points="403,607 400,595 392,585 385,572 380,560 372,548 360,545 350,550 345,560 352,575 360,590"/>
<polyline class="pc" points="403,607 395,600 385,598 370,605 355,608 340,610 325,605 320,598 322,585 330,578"/>
<polyline class="pa" points="403,607 420,600 435,590 445,575 455,560 463,548 470,540 476,535 472,545"/>
<polyline class="pb" points="403,607 385,610 370,615 358,620 345,618 338,610 342,598 350,592"/>
<polyline class="pc" points="403,607 412,605 422,600 430,608 425,620 415,625 405,632 398,640 402,650"/>
<polyline class="pa" points="403,607 395,592 388,575 378,560 366,548 358,540 345,540 335,545"/>
<polyline class="pb" points="403,607 410,600 425,592 438,585 447,578 440,568 430,560 418,553"/>
<polyline class="pc" points="403,607 385,612 365,614 345,612 330,616 318,622 305,628 295,632"/>
<polyline class="pb" points="403,607 392,596 378,584 362,570 352,556 346,546 340,556 335,570 342,588 355,598"/>
<polyline class="pa" points="403,607 420,612 438,608 452,600 462,590 468,575 460,565"/>
<polyline class="pb" points="403,607 396,612 388,608 380,614 372,606 364,610 356,604 350,596 344,600 338,590 333,582"/>
<polyline class="pa" points="403,607 398,600 391,604 384,596 378,602 371,594 366,586 360,580 355,571 348,566 341,558"/>
<polyline class="pc" points="403,607 410,603 404,596 396,590 390,580 386,566 382,556 376,548 370,540 363,536"/>
<polyline class="pa" points="403,607 395,610 386,603 376,608 368,600 360,606 352,599 345,605 337,598 330,602 324,596"/>
<polyline class="pb" points="403,607 408,614 400,620 392,626 384,622 376,630 368,626 360,634 354,628"/>
<polyline class="pa" points="403,607 412,596 418,586 426,578 432,570 438,560 444,552 452,548 460,552"/>
<polyline class="pc" points="403,607 397,604 390,612 382,606 374,613 366,607 358,615 350,610 342,618 334,612"/>
<polyline class="pb" points="403,607 393,598 387,590 379,596 372,588 364,592 357,584 350,588 344,580"/>
</g>
<!-- BEST -->
<g class="tr" stroke="#222" stroke-width="2.6">
<polyline points="580,649 558,637 538,631 531,611 515,602 497,595 492,593 487,583 470,580 455,578 446,580 437,591 446,600 455,578"/>
<polyline points="580,673 553,668 530,664 508,657 484,648 462,638 436,624 420,617 405,610"/>
</g>
<polyline points="372,563 376,567 380,576 383,586 387,597 393,603" fill="none" stroke="#222" stroke-width="1.2" stroke-dasharray="4 2 1 2"/>
<!-- JTWC -->
<polyline points="374,593 405,610" fill="none" stroke="#777" stroke-width="3.2" stroke-linecap="round"/>
<!-- Control -->
<polyline class="tr" stroke="#08519c" stroke-width="2.6" points="400,602 393,582 392,568 394,555 390,542 383,536 375,546 368,553 350,562 354,569 351,573 354,579 352,588 367,595 374,593 385,602 388,606 383,607 375,612 363,617 385,612 400,613 405,611"/>
<circle cx="405" cy="610" r="5" fill="#777"/>
<g fill="#222">
<circle cx="538" cy="631" r="4"/><circle cx="487" cy="583" r="4"/><circle cx="454" cy="578" r="4"/><circle cx="446" cy="600" r="4"/><circle cx="530" cy="664" r="4"/><circle cx="436" cy="624" r="4"/>
<circle cx="400" cy="602" r="4"/><circle cx="383" cy="536" r="4"/><circle cx="354" cy="569" r="4"/><circle cx="367" cy="595" r="4"/><circle cx="374" cy="593" r="4"/><circle cx="363" cy="617" r="4"/>
</g>
<g fill="#fff" stroke="#222" stroke-width="1.3">
<circle cx="515" cy="602" r="3.6"/><circle cx="447" cy="579" r="3.6"/><circle cx="484" cy="648" r="3.6"/><circle cx="420" cy="617" r="3.6"/><circle cx="572" cy="672" r="3.6"/>
<circle cx="394" cy="555" r="3.6"/><circle cx="349" cy="562" r="3.6"/><circle cx="354" cy="579" r="3.6"/><circle cx="383" cy="607" r="3.6"/>
</g>
</g>
<rect x="66" y="336" width="510" height="508" fill="none" stroke="#000" stroke-width="1.1"/>
<path stroke="#000" stroke-width="1" d="M61 373.1h5M61 492.2h5M61 611.2h5M61 730.3h5M89.8 844v5M208.9 844v5M327.9 844v5M447 844v5M566 844v5"/>
<text class="yl" x="55" y="377.1">0°</text>
<text class="yl" x="55" y="496.2">5°S</text>
<text class="yl" x="55" y="615.2">10°S</text>
<text class="yl" x="55" y="734.3">15°S</text>
<text class="xl" x="89.8" y="865">120°E</text>
<text class="xl" x="208.9" y="865">125°E</text>
<text class="xl" x="327.9" y="865">130°E</text>
<text class="xl" x="447" y="865">135°E</text>
<text class="xl" x="566" y="865">140°E</text>
<text class="ttl" x="569" y="356">Track</text>
<line x1="72" y1="348" x2="98" y2="348" stroke="#222" stroke-width="3"/>
<line x1="72" y1="362" x2="98" y2="362" stroke="#6baed6" stroke-width="3"/>
<line x1="72" y1="376" x2="98" y2="376" stroke="#08519c" stroke-width="3"/>
<line x1="72" y1="390" x2="98" y2="390" stroke="#777" stroke-width="3"/>
<text class="lg" x="105" y="352">BEST</text>
<text class="lg" x="105" y="366">GEFS - Perturbation</text>
<text class="lg" x="105" y="380">GEFS - Control</text>
<text class="lg" x="105" y="394">JTWC</text>
<circle cx="85.3" cy="816" r="4" fill="#222"/>
<circle cx="85.3" cy="830" r="3.6" fill="#fff" stroke="#222" stroke-width="1.3"/>
<text class="lg" x="105" y="820">00 UTC</text>
<text class="lg" x="105" y="834">12 UTC</text>

<!-- Logos -->
<circle cx="20" cy="883" r="15" fill="#0a6fc2"/>
<path d="M5,883 A15,15 0 0 1 35,883 Q28,876 20,881 Q12,887 5,883Z" fill="#1b2f6e"/>
<path d="M7,887 Q14,880 22,885 Q28,889 34,884" stroke="#fff" stroke-width="2" fill="none"/>
<text x="20" y="877" style="font-size:4px;fill:#fff;text-anchor:middle">NOAA</text>
<text x="40" y="895" textLength="70" lengthAdjust="spacingAndGlyphs" style="font-family:'Liberation Serif',serif;font-weight:bold;font-size:36px;fill:#1d3c7c">CIRA</text>
</svg>
</body></html>
